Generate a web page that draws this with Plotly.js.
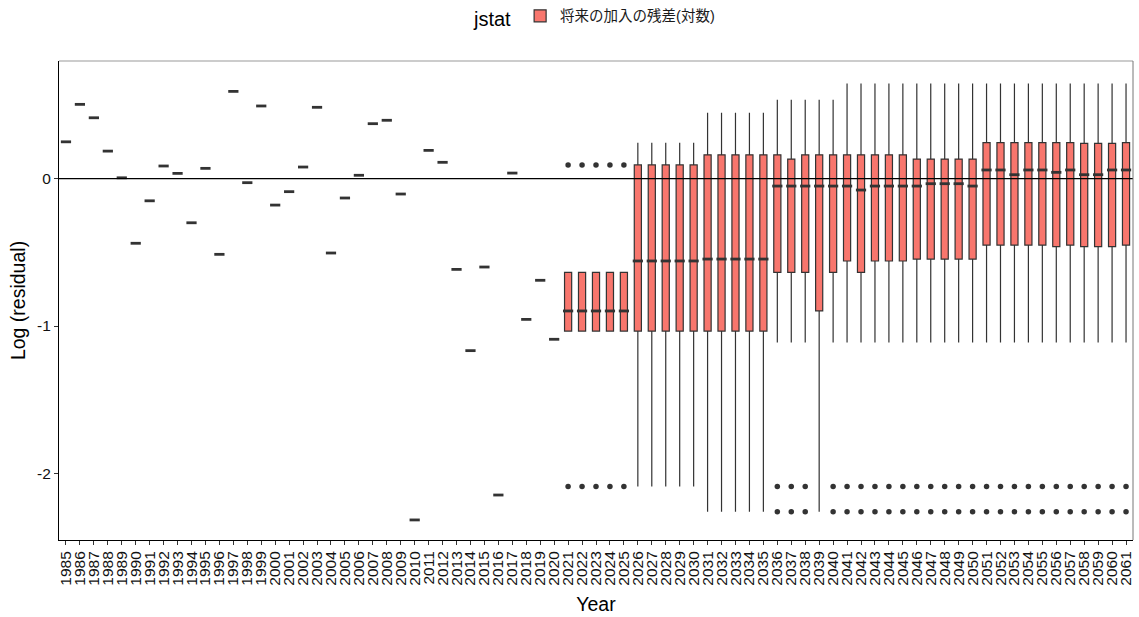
<!DOCTYPE html>
<html>
<head>
<meta charset="utf-8">
<script src="https://cdn.plot.ly/plotly-3.0.1.min.js"></script>
<style>html,body{margin:0;padding:0;background:#fff;}#chart{width:1139px;height:617px;}</style>
</head>
<body>
<div id="chart"></div>
<script>
// ---- Data ----
// Observed years: single residual value per year
var obsYears = [1985,1986,1987,1988,1989,1990,1991,1992,1993,1994,1995,1996,1997,1998,1999,2000,2001,2002,2003,2004,2005,2006,2007,2008,2009,2010,2011,2012,2013,2014,2015,2016,2017,2018,2019,2020];
var obsValues = [0.249,0.503,0.412,0.186,0.005,-0.439,-0.151,0.085,0.035,-0.300,0.069,-0.514,0.591,-0.028,0.492,-0.180,-0.089,0.078,0.483,-0.505,-0.132,0.022,0.372,0.395,-0.105,-2.315,0.191,0.110,-0.616,-1.167,-0.600,-2.146,0.037,-0.955,-0.690,-1.090];

// Future years: box statistics
var futYears = [2021,2022,2023,2024,2025,2026,2027,2028,2029,2030,2031,2032,2033,2034,2035,2036,2037,2038,2039,2040,2041,2042,2043,2044,2045,2046,2047,2048,2049,2050,2051,2052,2053,2054,2055,2056,2057,2058,2059,2060,2061];
var futQ1 = [-1.034,-1.034,-1.034,-1.034,-1.034,-1.034,-1.034,-1.034,-1.034,-1.034,-1.034,-1.034,-1.034,-1.034,-1.034,-0.636,-0.636,-0.636,-0.898,-0.636,-0.559,-0.636,-0.559,-0.559,-0.559,-0.546,-0.546,-0.546,-0.546,-0.546,-0.451,-0.451,-0.451,-0.451,-0.451,-0.462,-0.451,-0.462,-0.462,-0.462,-0.451];
var futMedian = [-0.898,-0.898,-0.898,-0.898,-0.898,-0.559,-0.559,-0.559,-0.559,-0.559,-0.546,-0.546,-0.546,-0.546,-0.546,-0.051,-0.051,-0.051,-0.051,-0.051,-0.051,-0.078,-0.051,-0.051,-0.051,-0.051,-0.035,-0.035,-0.035,-0.051,0.058,0.058,0.026,0.058,0.058,0.042,0.058,0.026,0.026,0.058,0.058];
var futQ3 = [-0.636,-0.636,-0.636,-0.636,-0.636,0.092,0.092,0.092,0.092,0.092,0.161,0.161,0.161,0.161,0.161,0.161,0.132,0.161,0.161,0.161,0.161,0.161,0.161,0.161,0.161,0.132,0.132,0.132,0.132,0.132,0.243,0.243,0.243,0.243,0.243,0.243,0.243,0.239,0.239,0.239,0.243];
var futLower = [-1.034,-1.034,-1.034,-1.034,-1.034,-2.089,-2.089,-2.089,-2.089,-2.089,-2.259,-2.259,-2.259,-2.259,-2.259,-1.111,-1.111,-1.111,-2.259,-1.111,-1.111,-1.111,-1.111,-1.111,-1.111,-1.111,-1.111,-1.111,-1.111,-1.111,-1.111,-1.111,-1.111,-1.111,-1.111,-1.111,-1.111,-1.111,-1.111,-1.111,-1.111];
var futUpper = [-0.636,-0.636,-0.636,-0.636,-0.636,0.243,0.243,0.243,0.243,0.243,0.446,0.446,0.446,0.446,0.446,0.535,0.535,0.535,0.535,0.535,0.645,0.645,0.645,0.645,0.645,0.645,0.645,0.645,0.645,0.645,0.645,0.645,0.645,0.645,0.645,0.645,0.645,0.645,0.645,0.645,0.645];

// Outliers
var outlierYears = [2021,2022,2023,2024,2025,2021,2022,2023,2024,2025,
  2036,2037,2038,2040,2041,2042,2043,2044,2045,2046,2047,2048,2049,2050,2051,2052,2053,2054,2055,2056,2057,2058,2059,2060,2061,
  2036,2037,2038,2040,2041,2042,2043,2044,2045,2046,2047,2048,2049,2050,2051,2052,2053,2054,2055,2056,2057,2058,2059,2060,2061];
var outlierValues = [0.092,0.092,0.092,0.092,0.092,-2.089,-2.089,-2.089,-2.089,-2.089,
  -2.089,-2.089,-2.089,-2.089,-2.089,-2.089,-2.089,-2.089,-2.089,-2.089,-2.089,-2.089,-2.089,-2.089,-2.089,-2.089,-2.089,-2.089,-2.089,-2.089,-2.089,-2.089,-2.089,-2.089,-2.089,
  -2.259,-2.259,-2.259,-2.259,-2.259,-2.259,-2.259,-2.259,-2.259,-2.259,-2.259,-2.259,-2.259,-2.259,-2.259,-2.259,-2.259,-2.259,-2.259,-2.259,-2.259,-2.259,-2.259,-2.259,-2.259];

var seriesName = '将来の加入の残差(対数)';
var legendTitle = 'jstat';
var xTitle = 'Year';
var yTitle = 'Log (residual)';
var yTickVals = [-2, -1, 0];
var yTickText = ['-2', '-1', '0'];

// ---- Build ----
var cats = obsYears.concat(futYears).map(String);
var q1 = obsValues.concat(futQ1);
var med = obsValues.concat(futMedian);
var q3 = obsValues.concat(futQ3);
var lo = obsValues.concat(futLower);
var hi = obsValues.concat(futUpper);

var FONT = 'Liberation Sans, Arial, Noto Sans CJK JP, sans-serif';
var dark = '#333333';

var boxTrace = {
  type: 'box', name: seriesName, x: cats,
  q1: q1, median: med, q3: q3, lowerfence: lo, upperfence: hi,
  boxpoints: false, whiskerwidth: 0,
  fillcolor: '#F8766D', line: {color: dark, width: 1.2},
  hoverinfo: 'skip', showlegend: true
};
var medTrace = {
  type: 'scatter', mode: 'markers', x: cats, y: med, showlegend: false, hoverinfo: 'skip',
  marker: {symbol: 'line-ew', size: 7.3, color: dark, line: {color: dark, width: 2.8}}
};
var outTrace = {
  type: 'scatter', mode: 'markers', x: outlierYears.map(String), y: outlierValues,
  showlegend: false, hoverinfo: 'skip',
  marker: {symbol: 'circle', size: 5.5, color: dark, line: {width: 0}}
};

var layout = {
  width: 1139, height: 617,
  margin: {l: 59, r: 6, t: 61, b: 77, pad: 0, autoexpand: false},
  paper_bgcolor: '#fff', plot_bgcolor: '#fff',
  font: {family: FONT, color: '#1a1a1a'},
  boxgap: 0.27,
  showlegend: true,
  legend: {
    orientation: 'h', x: 0.5, xanchor: 'center', y: 1.09, yanchor: 'middle',
    title: {text: legendTitle, font: {size: 20, family: FONT, color: '#000'}},
    font: {size: 14.5, family: FONT, color: '#1a1a1a'},
    itemwidth: 30, bgcolor: 'rgba(0,0,0,0)'
  },
  xaxis: {
    type: 'category', categoryorder: 'array', categoryarray: cats,
    range: [-0.5, cats.length - 0.5],
    tickmode: 'array', tickvals: cats, ticktext: cats,
    tickangle: -90, ticks: 'outside', ticklen: 4, tickcolor: dark, tickwidth: 1,
    tickfont: {size: 15.5, family: FONT, color: '#111'},
    showline: true, linecolor: '#000', linewidth: 1, showgrid: false, zeroline: false,
    title: {text: xTitle, font: {size: 19.5, family: FONT, color: '#000'}, standoff: 12}
  },
  yaxis: {
    range: [-2.451, 0.797], tickvals: yTickVals, ticktext: yTickText,
    ticks: 'outside', ticklen: 4, tickcolor: dark, tickwidth: 1,
    tickfont: {size: 15.5, family: FONT, color: '#111'},
    showline: true, linecolor: '#000', linewidth: 1, showgrid: false, zeroline: false,
    title: {text: yTitle, font: {size: 19.5, family: FONT, color: '#000'}, standoff: 6}
  },
  shapes: [
    {type: 'line', xref: 'paper', yref: 'y', x0: 0, x1: 1, y0: 0, y1: 0, line: {color: '#000', width: 1.3}, layer: 'above'},
    {type: 'line', xref: 'paper', yref: 'paper', x0: 0, x1: 1, y0: 1, y1: 1, line: {color: '#999', width: 1}, layer: 'above'},
    {type: 'line', xref: 'paper', yref: 'paper', x0: 1, x1: 1, y0: 0, y1: 1, line: {color: '#777', width: 1}, layer: 'above'}
  ]
};

Plotly.newPlot('chart', [boxTrace, medTrace, outTrace], layout, {displayModeBar: false, staticPlot: true});
</script>
</body>
</html>
